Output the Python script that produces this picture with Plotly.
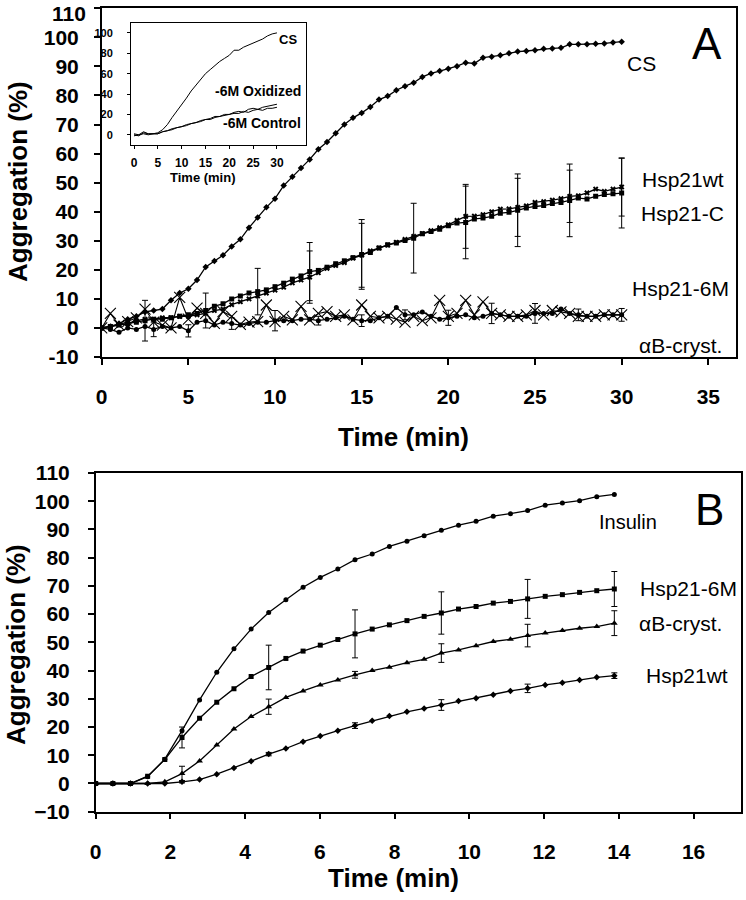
import plotly.graph_objects as go

W, H = 746, 900

# ---------------- Panel A data ----------------
a_time = [0, 0.5, 1, 1.5, 2, 2.5, 3, 3.5, 4, 4.5, 5, 5.5, 6, 6.5, 7, 7.5, 8, 8.5, 9, 9.5,
          10, 10.5, 11, 11.5, 12, 12.5, 13, 13.5, 14, 14.5, 15, 15.5, 16, 16.5, 17, 17.5,
          18, 18.5, 19, 19.5, 20, 20.5, 21, 21.5, 22, 22.5, 23, 23.5, 24, 24.5, 25, 25.5,
          26, 26.5, 27, 27.5, 28, 28.5, 29, 29.5, 30]
a_cs = [0, 0.5, 1.5, 3, 4, 5.5, 6, 6.5, 9.5, 12, 13.5, 16.5, 21, 23, 25, 28, 30.5, 34.5, 38, 41.5,
        44.5, 49, 52, 55, 58, 61.5, 64, 67, 70, 72.3, 74, 76, 78.6, 79.8, 81.8, 83.2,
        84.4, 86.4, 87.6, 88.4, 89.2, 90.1, 91.3, 91, 93, 93.3, 93.8, 94.5, 95.1, 95.3, 95.6, 96.1,
        96.2, 96.4, 97.6, 97.6, 97.6, 97.8, 97.9, 98.2, 98.5]
a_wt = [0, 0.5, 1, 1.5, 2.5, 3, 3, 3.5, 3.5, 4, 4, 4.5, 5, 6, 6.5, 8, 9, 10, 11, 12,
        13, 14, 15.5, 16.5, 17.5, 19, 20.5, 21.5, 22.5, 24, 25, 26.5, 27.5, 28.5, 29.5, 30.5,
        31.5, 32.5, 33.5, 34.5, 35.5, 37, 38.4, 38.5, 39, 40, 40.9, 41, 41.5, 42, 43.2, 43.5,
        44, 44.5, 45.3, 45.5, 46.5, 47.8, 47, 47.8, 48.5]
a_c = [0, 0.5, 1, 1.5, 2, 2.5, 3, 3, 3.5, 4, 4.5, 5, 6, 7.5, 8.3, 10, 11, 12, 12.5, 13.1,
       14.2, 15.4, 16.8, 17.9, 19.4, 19.8, 20.9, 22.1, 23.1, 24.2, 25.3, 26, 27.5, 28.6, 29.2, 30.1,
       30.9, 32.4, 33.2, 34, 35.2, 36.1, 36.3, 37.5, 37.8, 38.4, 39.5, 39.8, 40.5, 41.3, 41.8, 42.1,
       42.8, 43.2, 43.9, 44.7, 44.4, 45.3, 45.9, 46.2, 46.4]
a_6m = [0, 5, 1, 2.2, 3.5, 6.5, 2, 1, 0, 10.5, 3, 6.8, 5, 1.6, 5.6, 4, 1.2, 2, 2.2, 7.9,
        2.2, 4, 2.8, 7.4, 2.8, 5, 5.6, 4, 4.5, 2.8, 7.9, 4, 3.5, 4, 3, 2,
        4, 2.5, 3.5, 9.5, 4, 5, 9.5, 4.5, 9, 5, 4.5, 4, 4, 4.5, 6, 4.5,
        6, 5.5, 5, 4, 4, 4, 4.5, 4.5, 4.5]
a_ab = [0, -0.5, -1.5, 0, -0.5, 0.5, -0.5, 0.5, 0, 0.5, -1, 2, 2.5, 1, 2, 1.5, 1, 1.5, 2, 2,
        2.5, 2.5, 2.5, 3, 3, 2.5, 3, 3.5, 4, 3, 2.5, 2.5, 3.5, 4, 7, 4.5,
        4.5, 5.5, 4, 3, 3.5, 4, 4.5, 3.5, 4, 5, 4.5, 4, 4, 4, 5, 5,
        5, 6.5, 5, 4.5, 4, 4, 4.5, 4.5, 4.5]
# error bars (time -> +/- value)
a_c_err = {2.5: 7, 6: 6, 9: 8, 12: 10, 15: 12, 18: 12, 21: 12.5, 24: 12.5, 27: 12.5, 30: 12}
a_wt_err = {12: 9, 15: 11, 21: 11, 24: 10, 27: 9, 30: 10}
a_ab_err = {3: 2.5, 5: 2.1, 7.5: 2, 10: 3.5, 12.5: 1.5, 15: 2, 17.5: 1.7, 20: 2.6,
            22.5: 3.5, 25: 3.4, 27.5: 2, 30: 2.2}
a_yticks = [-10, 0, 10, 20, 30, 40, 50, 60, 70, 80, 90, 100, 110]

# ---------------- Inset data ----------------
in_time = [0, 1, 2, 3, 4, 5, 6, 7, 8, 9, 10, 11, 12, 13, 14, 15, 16, 17, 18, 19, 20,
           21, 22, 23, 24, 25, 26, 27, 28, 29, 30]
in_cs = [1, 0, 3, 1, 1, 2, 5, 10, 17, 23, 29, 36, 43, 49, 55, 60, 64, 68, 72, 75, 78,
         83, 83, 86, 88, 90, 92, 94, 97, 99, 100]
in_ox = [0, -1, 2, 1, 1, 1, 3, 4, 6, 7, 8, 10, 11, 12, 14, 15, 16, 18, 18, 20, 20,
         22, 23, 22, 25, 26, 25, 27, 28, 29, 30]
in_ctrl = [-1, 0, 1, 0, 1, 1, 3, 4, 5, 7, 8, 9, 11, 12, 13, 15, 15, 17, 18, 19, 20,
           21, 21, 23, 22, 24, 25, 24, 26, 26, 27]

# ---------------- Panel B data ----------------
b_time = [0, 0.46, 0.93, 1.39, 1.85, 2.31, 2.78, 3.24, 3.70, 4.16, 4.63, 5.09, 5.55, 6.01,
          6.48, 6.94, 7.40, 7.86, 8.33, 8.79, 9.25, 9.71, 10.18, 10.64, 11.10, 11.56,
          12.03, 12.49, 12.95, 13.41, 13.88]
b_ins = [0, 0, 0, 2.4, 8.6, 18.7, 29.6, 39.4, 47.7, 54.7, 60.6, 65.1, 69.5, 73.0, 76.0, 79.3,
         81.3, 84.0, 85.8, 87.8, 89.7, 91.5, 92.9, 94.7, 95.6, 96.7, 98.6, 99.4, 100.2, 101.6, 102.4]
b_6m = [0, 0, 0, 2.6, 8.5, 16.3, 23.1, 28.8, 33.6, 37.9, 41.1, 44.3, 46.9, 49.0, 51.0, 53.0,
        54.7, 56.2, 57.7, 59.2, 60.4, 61.8, 62.7, 63.9, 64.5, 65.4, 66.3, 66.9, 67.7, 68.3, 68.9]
b_ab = [0, 0, 0, 0, 0.6, 3.5, 8.0, 13.6, 19.3, 23.7, 27.2, 30.5, 32.8, 34.9, 36.7, 38.5,
        40.0, 41.2, 42.8, 44.0, 46.2, 47.3, 48.8, 50.3, 51.1, 52.4, 53.3, 54.2, 55.0, 55.6, 56.8]
b_wt = [0, 0, 0, 0, 0, 0.6, 1.4, 3.3, 5.5, 7.9, 10.4, 12.4, 14.8, 16.8, 18.7, 20.5,
        22.2, 23.9, 25.4, 26.6, 27.8, 29.2, 30.2, 31.4, 32.8, 33.7, 34.9, 35.7, 36.7, 37.6, 38.2]
b_err_idx = [5, 10, 15, 20, 25, 30]
b_6m_err = [3.7, 7.9, 8.5, 7.5, 6.9, 6.2]
b_ab_err = [2.6, 2.7, 1.2, 3.3, 4.0, 4.4]
b_wt_err = [0.4, 0.6, 1.0, 1.9, 1.5, 1.0]

FONT = "Liberation Sans"
K = "black"

fig = go.Figure()


def line(x, y, xa, ya, symbol, size, lw=1.3, open_=False):
    mk = dict(symbol=symbol, size=size, color=K)
    if open_:
        mk["line"] = dict(color=K, width=1.1)
    fig.add_trace(go.Scatter(x=x, y=y, mode="lines+markers", xaxis=xa, yaxis=ya,
                             line=dict(color=K, width=lw), marker=mk,
                             showlegend=False, hoverinfo="skip"))


def errs_by_time(times, vals, errmap, xa, ya):
    xs, ys, es = [], [], []
    for t, v in zip(times, vals):
        if t in errmap:
            xs.append(t); ys.append(v); es.append(errmap[t])
    fig.add_trace(go.Scatter(x=xs, y=ys, mode="markers", xaxis=xa, yaxis=ya,
                             marker=dict(size=1, color=K),
                             error_y=dict(type="data", array=es, color=K, thickness=1, width=3),
                             showlegend=False, hoverinfo="skip"))


def errs_by_idx(times, vals, idx, es, xa, ya):
    fig.add_trace(go.Scatter(x=[times[i] for i in idx], y=[vals[i] for i in idx],
                             mode="markers", xaxis=xa, yaxis=ya,
                             marker=dict(size=1, color=K),
                             error_y=dict(type="data", array=es, color=K, thickness=1, width=3),
                             showlegend=False, hoverinfo="skip"))


# Panel A
line(a_time, a_cs, "x", "y", "diamond", 5)
line(a_time, a_c, "x", "y", "square", 5)
line(a_time, a_wt, "x", "y", "x", 5)
line(a_time, a_6m, "x", "y", "x-thin-open", 11, lw=1.1, open_=True)
line(a_time, a_ab, "x", "y", "circle", 5)
errs_by_time(a_time, a_c, a_c_err, "x", "y")
errs_by_time(a_time, a_wt, a_wt_err, "x", "y")
errs_by_time(a_time, a_ab, a_ab_err, "x", "y")

# Inset
for ys in (in_cs, in_ox, in_ctrl):
    fig.add_trace(go.Scatter(x=in_time, y=ys, mode="lines", xaxis="x3", yaxis="y3",
                             line=dict(color=K, width=1), showlegend=False, hoverinfo="skip"))

# Panel B
line(b_time, b_ins, "x2", "y2", "circle", 5)
line(b_time, b_6m, "x2", "y2", "square", 5)
line(b_time, b_ab, "x2", "y2", "triangle-up", 6)
line(b_time, b_wt, "x2", "y2", "diamond", 5)
errs_by_idx(b_time, b_6m, b_err_idx, b_6m_err, "x2", "y2")
errs_by_idx(b_time, b_ab, b_err_idx, b_ab_err, "x2", "y2")
errs_by_idx(b_time, b_wt, b_err_idx, b_wt_err, "x2", "y2")


def px(x):
    return x / W


def py(y):
    return 1 - y / H


ax_common = dict(showline=True, linecolor=K, linewidth=1.5, mirror=True, ticks="outside",
                 tickcolor=K, ticklen=6, tickwidth=1.5, showgrid=False, zeroline=False,
                 automargin=False, ticklabeloverflow="allow",
                 tickfont=dict(family=FONT, size=21, color=K, weight="bold"))

inset_common = dict(showline=True, linecolor=K, linewidth=1, mirror=True, ticks="outside",
                    ticklen=3, tickcolor=K, showgrid=False, zeroline=False, automargin=False,
                    ticklabeloverflow="allow")

# top label of panel A is drawn as an annotation (nudged down to stay inside the page)
a_ytext = [str(v) if v != 110 else "" for v in a_yticks]

fig.update_layout(
    width=W, height=H, margin=dict(l=0, r=0, t=0, b=0, autoexpand=False),
    paper_bgcolor="white", plot_bgcolor="white",
    xaxis=dict(domain=[px(101.7), px(735.7)], range=[0, 36.58],
               tickvals=[0, 5, 10, 15, 20, 25, 30, 35], anchor="y",
               ticklabelstandoff=14, **ax_common),
    yaxis=dict(domain=[py(357), py(8.3)], range=[-10, 110], tickvals=a_yticks, ticktext=a_ytext,
               anchor="x", ticklabelstandoff=11, **ax_common),
    xaxis2=dict(domain=[px(95.7), px(741)], range=[0, 17.27],
                tickvals=[0, 2, 4, 6, 8, 10, 12, 14, 16], anchor="y2",
                ticklabelstandoff=14, **ax_common),
    yaxis2=dict(domain=[py(811.7), py(473)], range=[-10, 110], tick0=-10, dtick=10, anchor="x2",
                ticklabelstandoff=14, **ax_common),
    xaxis3=dict(domain=[px(131), px(306)], range=[-0.63, 36.1], tickvals=[0, 5, 10, 15, 20, 25, 30],
                anchor="y3", ticklabelstandoff=4,
                tickfont=dict(family=FONT, size=12, color=K, weight="bold"), **inset_common),
    yaxis3=dict(domain=[py(145), py(22.7)], range=[-10, 110], tickvals=[0, 20, 40, 60, 80, 100],
                anchor="x3", ticklabelstandoff=12,
                tickfont=dict(family=FONT, size=11, color=K, weight="bold"), **inset_common),
)


def ann(text, x, y, size, bold=False, angle=0, xanchor="center"):
    fig.add_annotation(text=text, x=px(x), y=py(y), xref="paper", yref="paper",
                       showarrow=False, xanchor=xanchor, yanchor="middle", textangle=angle,
                       font=dict(family=FONT, size=size, color=K,
                                 weight="bold" if bold else "normal"))


ann("110", 88, 13, 21, bold=True, xanchor="right")

# Axis titles
ann("Aggregation (%)", 18, 182, 26, bold=True, angle=-90)
ann("Time (min)", 403, 437, 26, bold=True)
ann("Aggregation (%)", 16, 645, 26, bold=True, angle=-90)
ann("Time (min)", 393, 878, 26, bold=True)
ann("Time (min)", 203, 177, 13, bold=True)

# Panel letters
ann("A", 706.7, 43.3, 44)
ann("B", 709.5, 509, 44)

# Panel A series labels
ann("CS", 641, 63.3, 21)
ann("Hsp21wt", 682.7, 180, 21)
ann("Hsp21-C", 682.7, 213.3, 21)
ann("Hsp21-6M", 680, 288.3, 21)
ann("αB-cryst.", 680.7, 345, 21)

# Inset labels
ann("CS", 288, 40, 13, bold=True)
ann("-6M Oxidized", 258.3, 91, 14, bold=True)
ann("-6M Control", 261.7, 123.3, 14, bold=True)

# Panel B series labels
ann("Insulin", 628, 521.7, 20)
ann("Hsp21-6M", 688, 588.3, 21)
ann("αB-cryst.", 680, 623.3, 21)
ann("Hsp21wt", 686.7, 675, 21)

fig.write_html("out.html", config={"displayModeBar": False},
               post_script="document.body.style.margin='0px';document.body.style.overflow='hidden';")
